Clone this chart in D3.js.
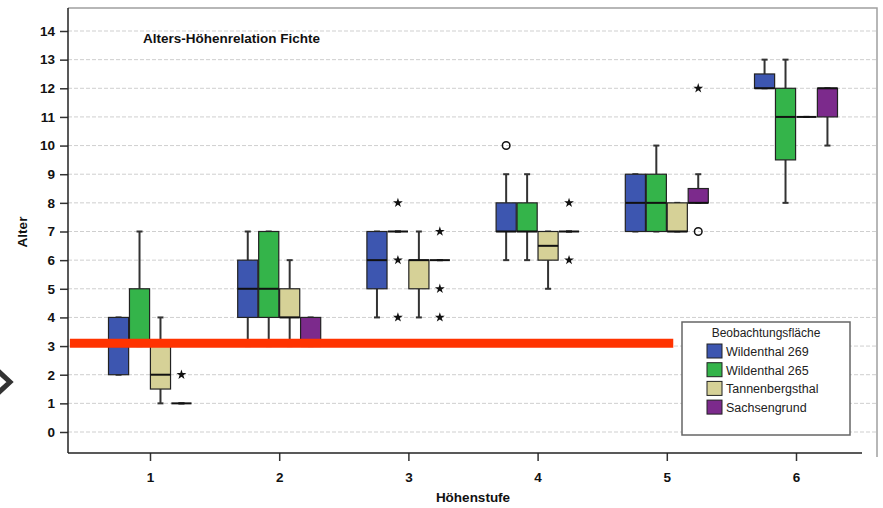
<!DOCTYPE html>
<html>
<head>
<meta charset="utf-8">
<script src="https://cdn.jsdelivr.net/npm/d3@7"></script>
<style>
  body { margin: 0; background: #fff; }
  svg { display: block; font-family: Arial, "Liberation Sans", sans-serif; }
</style>
</head>
<body>
<div class="forSvg"></div>
<script>
// -DATA-
const groups = [1, 2, 3, 4, 5, 6];
const seriesNames = ["Wildenthal 269", "Wildenthal 265", "Tannenbergsthal", "Sachsengrund"];
const seriesColors = ["#3d56b0", "#34b44a", "#d6d197", "#7c2a8c"];
const yTicks = [0, 1, 2, 3, 4, 5, 6, 7, 8, 9, 10, 11, 12, 13, 14];

// box stats per group: [min, q1, median, q3, max]
const wild269 = [[2, 2, 3, 4, 4], [3, 4, 5, 6, 7], [4, 5, 6, 7, 7], [6, 7, 7, 8, 9], [7, 7, 8, 9, 9], [12, 12, 12, 12.5, 13]];
const wild265 = [[3, 3, 3, 5, 7], [3, 4, 5, 7, 7], [7, 7, 7, 7, 7], [6, 7, 7, 8, 9], [7, 7, 8, 9, 10], [8, 9.5, 11, 12, 13]];
const tannen  = [[1, 1.5, 2, 3, 4], [3, 4, 4, 5, 6], [4, 5, 6, 6, 7], [5, 6, 6.5, 7, 7], [7, 7, 7, 8, 8], [11, 11, 11, 11, 11]];
const sachsen = [[1, 1, 1, 1, 1], [3, 3, 3, 4, 4], [6, 6, 6, 6, 6], [7, 7, 7, 7, 7], [8, 8, 8, 8.5, 9], [10, 11, 12, 12, 12]];
const boxData = [wild269, wild265, tannen, sachsen];

// extreme values (stars) and outliers (circles): [group, series index, value]
const extremes = [[1, 3, 2], [3, 1, 8], [3, 1, 6], [3, 1, 4], [3, 3, 7], [3, 3, 5], [3, 3, 4], [4, 3, 8], [4, 3, 6], [5, 3, 12]];
const outliers = [[4, 0, 10], [5, 3, 7]];

// red marker line drawn over the chart: [value, x from, x to]
const redLine = [3.1, 0.38, 5.05];

// -SIZES-
const svg_w = 883;
const svg_h = 508;
const plotLeft = 68;
const plotRight = 877;
const plotTop = 8;
const plotBottom = 453;

const svg = d3.select(".forSvg")
    .append("svg")
    .attr("width", svg_w)
    .attr("height", svg_h);

// scales
const xScale = d3.scaleLinear().domain([1, 6]).range([150, 796]);
const slot = d3.scaleBand().domain(d3.range(4)).range([-41.5, 41.5]).paddingInner(0.04);
const yScale = d3.scaleLinear().domain([0, 14]).range([432, 31]);

// gridlines
svg.append("g")
    .selectAll("line")
    .data(yTicks)
    .enter()
    .append("line")
    .attr("x1", plotLeft)
    .attr("x2", plotRight)
    .attr("y1", d => yScale(d))
    .attr("y2", d => yScale(d))
    .attr("stroke", "#cfcfcf")
    .attr("stroke-dasharray", "4,2");

// frame top + right
svg.append("path")
    .attr("d", `M${plotLeft},${plotTop}H${plotRight}V${plotBottom + 4}`)
    .attr("fill", "none")
    .attr("stroke", "#a0a0a0")
    .attr("stroke-width", 1.5);

// title
svg.append("text")
    .attr("x", 143)
    .attr("y", 43)
    .attr("font-size", "13.5px")
    .attr("font-weight", "bold")
    .attr("fill", "#111")
    .text("Alters-Höhenrelation Fichte");

// -BOXES-
const whiskerColor = "#333";
boxData.forEach((series, si) => {
    series.forEach((s, gi) => {
        const [mn, q1, med, q3, mx] = s;
        const x0 = xScale(groups[gi]) + slot(si);
        const w = slot.bandwidth();
        const cx = x0 + w / 2;
        const g = svg.append("g");
        // whiskers
        if (mx > q3) {
            g.append("line").attr("x1", cx).attr("x2", cx)
                .attr("y1", yScale(q3)).attr("y2", yScale(mx))
                .attr("stroke", whiskerColor).attr("stroke-width", 2);
        }
        if (mn < q1) {
            g.append("line").attr("x1", cx).attr("x2", cx)
                .attr("y1", yScale(q1)).attr("y2", yScale(mn))
                .attr("stroke", whiskerColor).attr("stroke-width", 2);
        }
        [mn, mx].forEach(v => {
            g.append("line").attr("x1", cx - 3).attr("x2", cx + 3)
                .attr("y1", yScale(v)).attr("y2", yScale(v))
                .attr("stroke", whiskerColor).attr("stroke-width", 2);
        });
        if (q3 > q1) {
            g.append("rect")
                .attr("x", x0)
                .attr("y", yScale(q3))
                .attr("width", w)
                .attr("height", yScale(q1) - yScale(q3))
                .attr("fill", seriesColors[si])
                .attr("stroke", "#222")
                .attr("stroke-width", 1.2);
        }
        // median
        g.append("line")
            .attr("x1", x0).attr("x2", x0 + w)
            .attr("y1", yScale(med)).attr("y2", yScale(med))
            .attr("stroke", "#111").attr("stroke-width", 2);
    });
});

// stars
const star = d3.symbol().type(d3.symbolStar).size(30);
svg.append("g")
    .selectAll("path")
    .data(extremes)
    .enter()
    .append("path")
    .attr("d", star)
    .attr("transform", d => `translate(${xScale(d[0]) + slot(d[1]) + slot.bandwidth() / 2},${yScale(d[2])})`)
    .attr("fill", "#111");

// circles
svg.append("g")
    .selectAll("circle")
    .data(outliers)
    .enter()
    .append("circle")
    .attr("cx", d => xScale(d[0]) + slot(d[1]) + slot.bandwidth() / 2)
    .attr("cy", d => yScale(d[2]))
    .attr("r", 3.8)
    .attr("fill", "none")
    .attr("stroke", "#111")
    .attr("stroke-width", 1.5);

// -AXES-
const yAxis = d3.axisLeft(yScale).tickValues(yTicks).tickSize(8).tickPadding(5);
const yG = svg.append("g")
    .attr("transform", `translate(${plotLeft},0)`)
    .call(yAxis);
yG.select(".domain").remove();
yG.append("line").attr("x1", 0).attr("x2", 0).attr("y1", plotTop).attr("y2", plotBottom)
    .attr("stroke", "#222").attr("stroke-width", 1.5);

const xAxis = d3.axisBottom(xScale).tickValues(groups).tickSize(8).tickPadding(11).tickFormat(d3.format("d"));
const xG = svg.append("g")
    .attr("transform", `translate(0,${plotBottom})`)
    .call(xAxis);
xG.select(".domain").remove();
xG.append("line").attr("x1", plotLeft).attr("x2", 862).attr("y1", 0).attr("y2", 0)
    .attr("stroke", "#222").attr("stroke-width", 1.5);

[yG, xG].forEach(a => {
    a.selectAll(".tick line").attr("stroke", "#333").attr("stroke-width", 1.5);
    a.selectAll(".tick text")
        .attr("font-size", "13.5px")
        .attr("font-weight", "bold")
        .attr("font-family", "Arial, 'Liberation Sans', sans-serif")
        .attr("fill", "#111");
});

// axis titles
svg.append("text")
    .attr("transform", "rotate(-90)")
    .attr("x", -232)
    .attr("y", 27)
    .attr("text-anchor", "middle")
    .attr("font-size", "13.5px")
    .attr("font-weight", "bold")
    .attr("fill", "#111")
    .text("Alter");

svg.append("text")
    .attr("x", 473)
    .attr("y", 502)
    .attr("text-anchor", "middle")
    .attr("font-size", "13.5px")
    .attr("font-weight", "bold")
    .attr("fill", "#111")
    .text("Höhenstufe");

// -LEGEND-
const legend = svg.append("g").attr("transform", "translate(682,322)");
legend.append("rect")
    .attr("width", 168)
    .attr("height", 113)
    .attr("fill", "#fff")
    .attr("stroke", "#666")
    .attr("stroke-width", 1.5);
legend.append("text")
    .attr("x", 84)
    .attr("y", 15)
    .attr("text-anchor", "middle")
    .attr("font-size", "12px")
    .attr("fill", "#222")
    .text("Beobachtungsfläche");
const items = legend.selectAll(".item")
    .data(seriesNames)
    .enter()
    .append("g")
    .attr("transform", (d, i) => `translate(25,${22 + i * 18.7})`);
items.append("rect")
    .attr("width", 15)
    .attr("height", 14)
    .attr("fill", (d, i) => seriesColors[i])
    .attr("stroke", "#222");
items.append("text")
    .attr("x", 19)
    .attr("y", 12)
    .attr("font-size", "12.5px")
    .attr("fill", "#222")
    .text(d => d);

// -OVERLAYS-
svg.append("line")
    .attr("x1", xScale(redLine[1]))
    .attr("x2", xScale(redLine[2]))
    .attr("y1", yScale(redLine[0]))
    .attr("y2", yScale(redLine[0]))
    .attr("stroke", "#ff3300")
    .attr("stroke-width", 9);

// chevron at left edge
svg.append("path")
    .attr("d", "M-3,370L10,382L-3,394")
    .attr("fill", "none")
    .attr("stroke", "#333")
    .attr("stroke-width", 5);
</script>
</body>
</html>
